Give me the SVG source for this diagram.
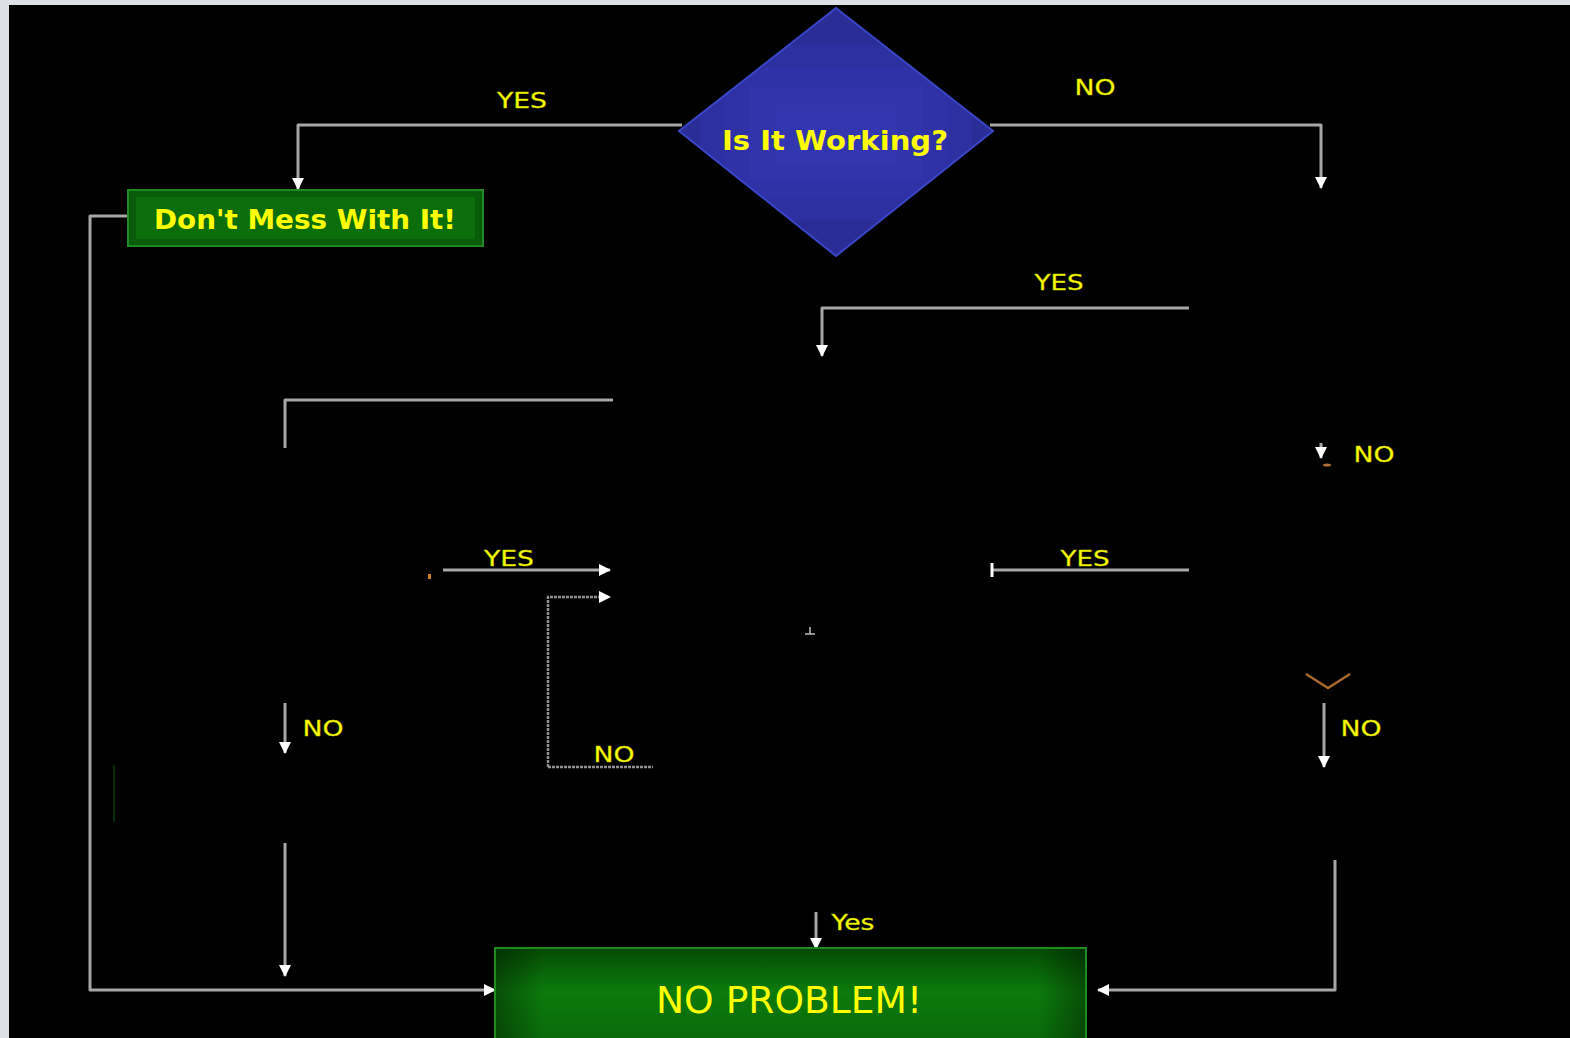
<svg xmlns="http://www.w3.org/2000/svg" width="1570" height="1038" viewBox="0 0 1570 1038">
  <style>
    .wire { fill: none; stroke: #a6a6a6; stroke-width: 3; stroke-linejoin: round; }
    .dots { fill: none; stroke: #909090; stroke-width: 2.5; stroke-dasharray: 3 1; }
    .lbl { font-family: "DejaVu Sans", "Liberation Sans", sans-serif; font-size: 22px; fill: #ffff00; stroke: #b8c800; stroke-width: 0.4; }
    .title { font-family: "DejaVu Sans", "Liberation Sans", sans-serif; font-weight: bold; fill: #ffff00; }
  </style>
  <defs>
    <marker id="tip" markerUnits="userSpaceOnUse" markerWidth="14" markerHeight="14" refX="11" refY="6.5" orient="auto">
      <path d="M0,0.5 L12,6.5 L0,12.5 Z" fill="#ffffff"/>
    </marker>
    <linearGradient id="okFill" x1="0" y1="0" x2="0" y2="1">
      <stop offset="0" stop-color="#044a04"/>
      <stop offset="0.45" stop-color="#0c7a0c"/>
      <stop offset="1" stop-color="#0a6a0a"/>
    </linearGradient>
    <linearGradient id="okSide" x1="0" y1="0" x2="1" y2="0">
      <stop offset="0" stop-color="#000" stop-opacity="0.35"/>
      <stop offset="0.08" stop-color="#000" stop-opacity="0"/>
      <stop offset="0.92" stop-color="#000" stop-opacity="0"/>
      <stop offset="1" stop-color="#000" stop-opacity="0.35"/>
    </linearGradient>
    <clipPath id="diamondClip">
      <polygon points="836,8 993,131 836,256 679,131"/>
    </clipPath>
  </defs>

  <!-- page frame -->
  <rect x="0" y="0" width="1570" height="1038" fill="#dde1e6"/>
  <rect x="9" y="5" width="1561" height="1033" fill="#000000"/>

  <!-- connectors -->
  <g id="connectors">
    <polyline class="wire" points="682,125 298,125 298,189" marker-end="url(#tip)"/>
    <polyline class="wire" points="990,125 1321,125 1321,188" marker-end="url(#tip)"/>
    <polyline class="wire" points="128,216 90,216 90,990 495,990" marker-end="url(#tip)"/>
    <polyline class="wire" points="1189,308 822,308 822,356" marker-end="url(#tip)"/>
    <polyline class="wire" points="613,400 285,400 285,448"/>
    <line class="wire" x1="1321" y1="443" x2="1321" y2="458" marker-end="url(#tip)"/>
    <line class="wire" x1="443" y1="570" x2="610" y2="570" marker-end="url(#tip)"/>
    <polyline class="dots" points="548,767 548,597 610,597" marker-end="url(#tip)"/>
    <line class="dots" x1="548" y1="767" x2="653" y2="767"/>
    <line class="wire" x1="992" y1="570" x2="1189" y2="570"/>
    <line x1="992" y1="563" x2="992" y2="577" stroke="#ffffff" stroke-width="3"/>
    <path d="M810,627 V634 M805,634 H815" stroke="#bfbfbf" stroke-width="1.5" fill="none"/>
    <line class="wire" x1="285" y1="703" x2="285" y2="753" marker-end="url(#tip)"/>
    <line class="wire" x1="1324" y1="703" x2="1324" y2="767" marker-end="url(#tip)"/>
    <line class="wire" x1="285" y1="843" x2="285" y2="976" marker-end="url(#tip)"/>
    <line class="wire" x1="816" y1="912" x2="816" y2="949" marker-end="url(#tip)"/>
    <polyline class="wire" points="1335,860 1335,990 1098,990" marker-end="url(#tip)"/>
    <!-- stray marks -->
    <path d="M1306,674 L1328,688 L1350,674" stroke="#a86a2c" stroke-width="2.5" fill="none"/>
    <ellipse cx="1327" cy="465" rx="4" ry="1.5" fill="#b07030"/>
    <rect x="428" y="574" width="3" height="5" fill="#d08020"/>
    <line x1="114" y1="765" x2="114" y2="822" stroke="#0a3a0a" stroke-width="1.5"/>
  </g>

  <!-- decision: is it working -->
  <g id="node-working">
    <polygon points="836,8 993,131 836,256 679,131" fill="#2a2d96"/>
    <g clip-path="url(#diamondClip)">
      <rect x="700" y="45" width="272" height="175" fill="#2c30a0"/>
      <rect x="725" y="68" width="222" height="130" fill="#2e32a6"/>
      <rect x="750" y="88" width="172" height="92" fill="#3035ab"/>
      <rect x="775" y="105" width="122" height="60" fill="#3237b0"/>
    </g>
    <polygon points="836,8 993,131 836,256 679,131" fill="none" stroke="#3a46c8" stroke-width="2"/>
    <text class="title" x="835" y="150" font-size="27" text-anchor="middle" textLength="226" lengthAdjust="spacingAndGlyphs">Is It Working?</text>
  </g>

  <!-- action: leave it alone -->
  <g id="node-dont-mess">
    <rect x="128" y="190" width="355" height="56" fill="#095c09" stroke="#228a22" stroke-width="2"/>
    <rect x="136" y="197" width="339" height="42" fill="#0b6e0b"/>
    <text class="title" x="305" y="229" font-size="26" text-anchor="middle" textLength="302" lengthAdjust="spacingAndGlyphs">Don't Mess With It!</text>
  </g>

  <!-- result -->
  <g id="node-no-problem">
    <rect x="495" y="948" width="591" height="95" fill="url(#okFill)" stroke="#1e8c1e" stroke-width="2"/>
    <rect x="496" y="949" width="589" height="94" fill="url(#okSide)"/>
    <text x="789" y="1013" font-family="DejaVu Sans, Liberation Sans, sans-serif" font-size="38" fill="#ffff00" text-anchor="middle" textLength="266" lengthAdjust="spacingAndGlyphs">NO PROBLEM!</text>
  </g>

  <!-- branch labels -->
  <g id="labels">
    <text class="lbl" x="522" y="108" text-anchor="middle" textLength="50" lengthAdjust="spacingAndGlyphs">YES</text>
    <text class="lbl" x="1095" y="95" text-anchor="middle" textLength="41" lengthAdjust="spacingAndGlyphs">NO</text>
    <text class="lbl" x="1059" y="290" text-anchor="middle" textLength="49" lengthAdjust="spacingAndGlyphs">YES</text>
    <text class="lbl" x="1374" y="462" text-anchor="middle" textLength="41" lengthAdjust="spacingAndGlyphs">NO</text>
    <text class="lbl" x="509" y="566" text-anchor="middle" textLength="50" lengthAdjust="spacingAndGlyphs">YES</text>
    <text class="lbl" x="1085" y="566" text-anchor="middle" textLength="49" lengthAdjust="spacingAndGlyphs">YES</text>
    <text class="lbl" x="323" y="736" text-anchor="middle" textLength="41" lengthAdjust="spacingAndGlyphs">NO</text>
    <text class="lbl" x="614" y="762" text-anchor="middle" textLength="41" lengthAdjust="spacingAndGlyphs">NO</text>
    <text class="lbl" x="1361" y="736" text-anchor="middle" textLength="41" lengthAdjust="spacingAndGlyphs">NO</text>
    <text class="lbl" x="853" y="930" text-anchor="middle" font-size="20" textLength="43" lengthAdjust="spacingAndGlyphs">Yes</text>
  </g>
</svg>
